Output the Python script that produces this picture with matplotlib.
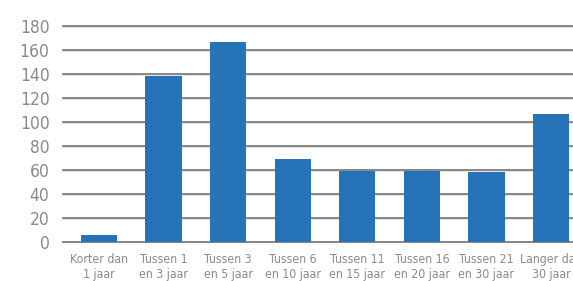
import glob
import matplotlib.pyplot as plt
from matplotlib import font_manager
from matplotlib.font_manager import FontProperties

categories = ["Korter dan\n1 jaar", "Tussen 1\nen 3 jaar", "Tussen 3\nen 5 jaar", "Tussen 6\nen 10 jaar",
              "Tussen 11\nen 15 jaar", "Tussen 16\nen 20 jaar", "Tussen 21\nen 30 jaar", "Langer dan\n30 jaar"]
values = [6, 138, 167, 69, 59, 59, 58, 107]
yticks = [0, 20, 40, 60, 80, 100, 120, 140, 160, 180]

files = sorted(set([f.fname for f in font_manager.fontManager.ttflist]
                   + glob.glob("/usr/share/fonts/**/*.ttf", recursive=True)))
pick = None
for key in ["LiberationSansNarrow-Regular", "DejaVuSansCondensed.ttf"]:
    for fn in files:
        if key in fn:
            pick = fn
            break
    if pick:
        break

W, H = 573, 281
fig = plt.figure(figsize=(W/100, H/100), dpi=100)
scale = 1.2
y0 = 242 + 1*scale
y1 = 26 - 2*scale
ax = fig.add_axes([62/W, (H - y0)/H, 1 - 62/W, (y0 - y1)/H])
ax.set_ylim(-1, 182)
ax.set_xlim(-0.57, 7.34)

x = list(range(len(values)))
ax.bar(x, values, width=0.56, color="#2673b8", zorder=3)

for t in yticks:
    ax.axhline(t - 1.3 / scale, color="#e3e3e3", lw=0.8, zorder=1)
    ax.axhline(t, color="#666666", lw=1.1, zorder=2)

fp_y = FontProperties(fname=pick, size=12.5) if pick else FontProperties(size=12)
fp_x = FontProperties(fname=pick, size=8.8) if pick else FontProperties(size=8)
ax.set_yticks(yticks)
ax.set_yticklabels([str(t) for t in yticks], fontproperties=fp_y, color="#8a8a8a")
ax.set_xticks(x)
ax.set_xticklabels(categories, fontproperties=fp_x, color="#8a8a8a", linespacing=1.18)
ax.tick_params(axis='y', length=0, pad=9)
ax.tick_params(axis='x', length=0, pad=7)
for s in ax.spines.values():
    s.set_visible(False)

fig.savefig("out.png", dpi=100)
